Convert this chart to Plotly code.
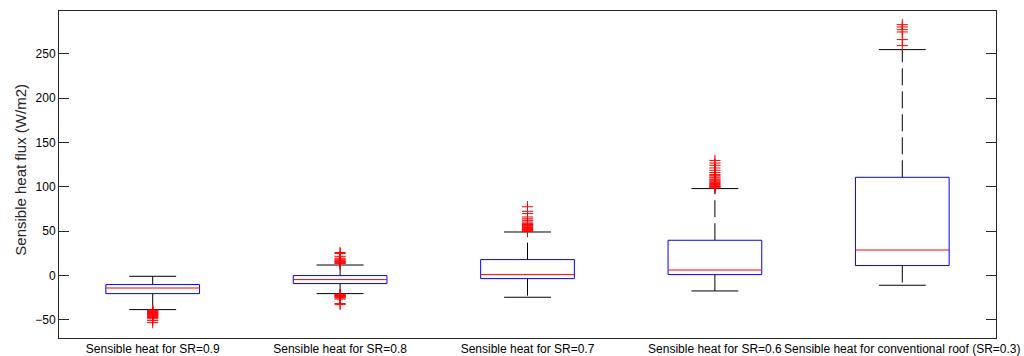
import plotly.graph_objects as go

categories = [
    "Sensible heat for SR=0.9",
    "Sensible heat for SR=0.8",
    "Sensible heat for SR=0.7",
    "Sensible heat for SR=0.6",
    "Sensible heat for conventional roof (SR=0.3)",
]
positions = [1, 2, 3, 4, 5]
q1 = [-20.3, -9.0, -3.4, 1.1, 11.3]
median = [-14.0, -4.5, 1.1, 6.3, 28.8]
q3 = [-10.1, 0.0, 18.0, 39.8, 110.7]
lower_whisker = [-38.3, -20.3, -24.4, -17.3, -10.9]
upper_whisker = [-0.8, 11.9, 49.1, 98.0, 254.5]

outliers_sr09 = [-38.8, -39.5, -40.2, -40.9, -41.5, -42.2, -42.8, -43.5, -44.1,
                 -44.8, -45.5, -46.3, -47.2, -48.6, -50.5, -53.0]
outliers_sr08 = [13.5, 14.2, 15.0, 15.8, 16.6, 17.5, 18.5, 19.6, 21.7, 24.8, 26.0,
                 -21.0, -21.7, -22.4, -23.1, -23.8, -24.5, -25.3, -26.5, -31.5, -32.7]
outliers_sr07 = [49.6, 50.3, 51.0, 51.8, 52.5, 53.3, 54.0, 54.8, 55.6, 56.5, 57.5,
                 58.8, 60.3, 62.2, 64.0, 66.0, 69.8, 72.4, 77.5]
outliers_sr06 = [98.6, 99.5, 100.3, 100.9, 101.8, 102.7, 103.6, 104.5, 105.4, 106.5,
                 107.5, 108.5, 110.0, 111.0, 112.5, 113.7, 116.0, 118.6, 121.2,
                 124.2, 126.7, 129.7]
outliers_conv = [259.0, 265.8, 274.4, 277.0, 280.0, 282.6]
outliers = [outliers_sr09, outliers_sr08, outliers_sr07, outliers_sr06, outliers_conv]

box_half = 0.25
cap_half = 0.125

fig = go.Figure()
for i, p in enumerate(positions):
    # whiskers (dashed)
    fig.add_trace(go.Scatter(x=[p, p], y=[q3[i], upper_whisker[i]], mode="lines",
                             line=dict(color="black", width=1, dash="17px,6px"),
                             showlegend=False, hoverinfo="skip"))
    fig.add_trace(go.Scatter(x=[p, p], y=[q1[i], lower_whisker[i]], mode="lines",
                             line=dict(color="black", width=1, dash="17px,6px"),
                             showlegend=False, hoverinfo="skip"))
    # caps
    for w in (upper_whisker[i], lower_whisker[i]):
        fig.add_trace(go.Scatter(x=[p - cap_half, p + cap_half], y=[w, w], mode="lines",
                                 line=dict(color="black", width=1),
                                 showlegend=False, hoverinfo="skip"))
    # box
    fig.add_trace(go.Scatter(
        x=[p - box_half, p + box_half, p + box_half, p - box_half, p - box_half],
        y=[q1[i], q1[i], q3[i], q3[i], q1[i]], mode="lines",
        line=dict(color="#0000ff", width=1), showlegend=False, hoverinfo="skip"))
    # median
    fig.add_trace(go.Scatter(x=[p - box_half, p + box_half], y=[median[i], median[i]],
                             mode="lines", line=dict(color="#ff0000", width=1),
                             showlegend=False, hoverinfo="skip"))
    # outliers
    fig.add_trace(go.Scatter(x=[p] * len(outliers[i]), y=outliers[i], mode="markers",
                             marker=dict(symbol="cross-thin", size=8,
                                         line=dict(color="#ff0000", width=1)),
                             showlegend=False))

fig.update_layout(
    width=1024, height=356,
    margin=dict(l=59, r=28, t=11, b=18),
    paper_bgcolor="white", plot_bgcolor="white",
    font=dict(family="Arial, Liberation Sans, sans-serif", size=12, color="black"),
    xaxis=dict(range=[0.5, 5.5], tickvals=positions, ticktext=categories,
               tickangle=0, showgrid=False, zeroline=False, showline=True,
               linecolor="#262626", linewidth=1, mirror=True, ticks="",
               tickfont=dict(size=12), automargin=False),
    yaxis=dict(range=[-70.3, 298], tickvals=[-50, 0, 50, 100, 150, 200, 250],
               showgrid=False, zeroline=False, showline=True, linecolor="#262626",
               linewidth=1, mirror="ticks", ticks="inside", ticklen=10,
               tickcolor="#262626", tickfont=dict(size=12), automargin=False),
    annotations=[dict(text="Sensible heat flux (W/m2)", textangle=-90,
                      xref="paper", yref="paper", x=-0.0415, y=0.515,
                      xanchor="center", yanchor="middle", showarrow=False,
                      font=dict(size=15, color="#262626"))],
)

fig.write_html("out.html", config={"displayModeBar": False},
               post_script="document.body.style.margin='0';document.body.style.overflow='hidden';")
